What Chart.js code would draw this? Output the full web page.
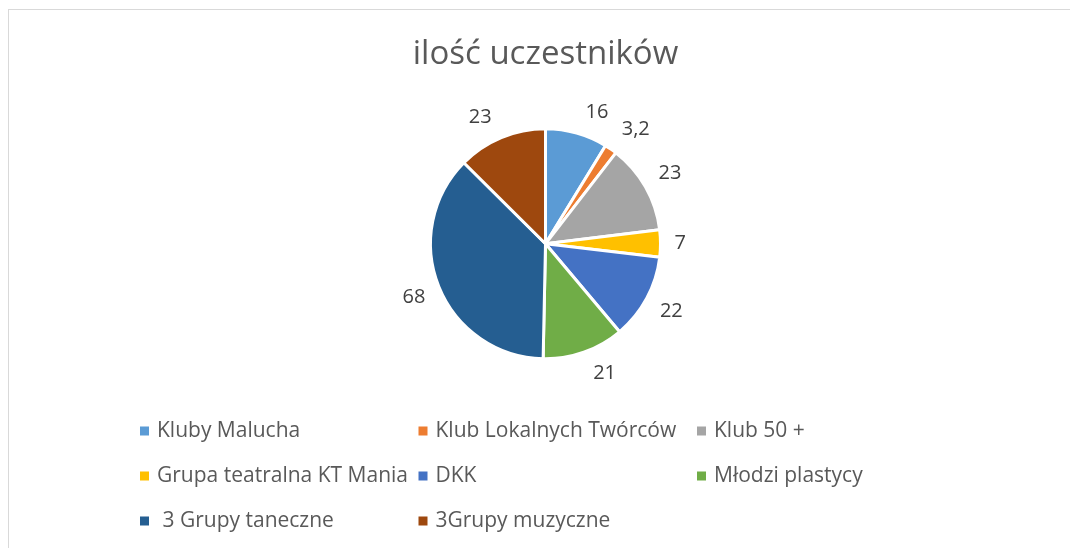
<!DOCTYPE html>
<html lang="pl">
<head>
<meta charset="utf-8">
<title>ilość uczestników</title>
<script src="https://cdn.jsdelivr.net/npm/chart.js@4.4.1/dist/chart.umd.min.js"></script>
<style>
    html, body { margin: 0; padding: 0; background: #fff; overflow: hidden; width: 1070px; height: 548px; }
    #ramka { position: absolute; left: 8px; top: 9px; width: 1200px; height: 700px; border-left: 1px solid #d9d9d9; border-top: 1px solid #d9d9d9; }
    #wykres { position: absolute; left: 9px; top: 10px; width: 1073px; height: 538px; }
</style>
</head>
<body>
<div id="ramka"></div>
<div id="wykres"><canvas id="kolowy" width="1073" height="538" style="width:1073px;height:538px"></canvas></div>
<script>
// Dane
const kategorie = ['Kluby Malucha', 'Klub Lokalnych Twórców', 'Klub 50 +', 'Grupa teatralna KT Mania', 'DKK', 'Młodzi plastycy', ' 3 Grupy taneczne', '3Grupy muzyczne'];
const uczestnicy = [16, 3.2, 23, 7, 22, 21, 68, 23];
const kolory = ['#5B9BD5', '#ED7D31', '#A5A5A5', '#FFC000', '#4472C4', '#70AD47', '#255E91', '#9E480E'];

document.addEventListener('DOMContentLoaded', () => {
    const ctx = document.getElementById('kolowy').getContext('2d');

    // Etykiety wartości na zewnątrz wycinków
    const etykietyPlugin = {
        id: 'etykiety',
        afterDatasetsDraw(chart) {
            const c = chart.ctx;
            const meta = chart.getDatasetMeta(0);
            c.save();
            c.font = '20px "Open Sans"';
            c.fillStyle = '#404040';
            c.textAlign = 'center';
            c.textBaseline = 'middle';
            meta.data.forEach((luk, i) => {
                const p = luk.getProps(['x', 'y', 'startAngle', 'endAngle', 'outerRadius'], true);
                const kat = (p.startAngle + p.endAngle) / 2;
                const dx = Math.cos(kat), dy = Math.sin(kat);
                const tekst = String(uczestnicy[i]).replace('.', ',');
                const w = c.measureText(tekst).width + 14;
                const h = 28;
                const r = p.outerRadius + 7;
                const x = p.x + dx * r + Math.sign(dx) * w / 2 * Math.min(1, Math.abs(dx) * 4);
                const y = p.y + dy * r + Math.sign(dy) * h / 2 * Math.min(1, Math.abs(dy) * 1.5);
                c.fillText(tekst, x, y);
            });
            c.restore();
        }
    };

    // Legenda w trzech kolumnach (jak w Excelu)
    const legendaPlugin = {
        id: 'legenda',
        afterDraw(chart) {
            const c = chart.ctx;
            const srodek = chart.width / 2;
            c.save();
            c.font = '21px "Open Sans"';
            c.textBaseline = 'middle';
            c.textAlign = 'left';
            kategorie.forEach((nazwa, i) => {
                const kol = i % 3;
                const wiersz = Math.floor(i / 3);
                const x = srodek - 405.5 + kol * 278.5;
                const y = 421 + wiersz * 45;
                c.fillStyle = kolory[i];
                c.fillRect(x, y - 4.5, 9, 9);
                c.fillStyle = '#595959';
                c.fillText(nazwa, x + 17, y);
            });
            c.restore();
        }
    };

    new Chart(ctx, {
        type: 'pie',
        data: {
            labels: kategorie,
            datasets: [{
                label: 'ilość uczestników',
                data: uczestnicy,
                backgroundColor: kolory,
                borderColor: '#ffffff',
                borderWidth: 3
            }]
        },
        options: {
            responsive: false,
            animation: false,
            radius: 115,
            layout: { padding: { top: 0, bottom: 153 } },
            plugins: {
                legend: { display: false },
                tooltip: { enabled: false },
                title: {
                    display: true,
                    text: 'ilość uczestników',
                    color: '#595959',
                    font: { family: 'Open Sans', size: 33, weight: 'normal' },
                    padding: { top: 25, bottom: 18 }
                }
            }
        },
        plugins: [etykietyPlugin, legendaPlugin]
    });
});
</script>
</body>
</html>
